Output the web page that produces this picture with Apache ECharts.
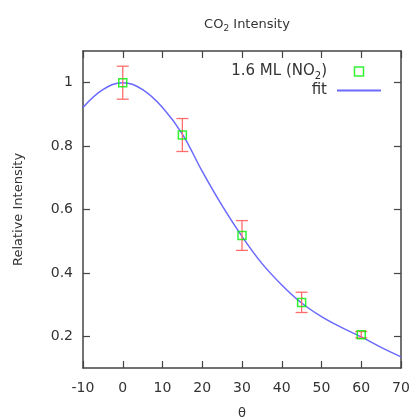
<!DOCTYPE html>
<html><head><meta charset="utf-8">
<script src="https://cdn.jsdelivr.net/npm/echarts@6/dist/echarts.min.js"></script>
<style>html,body{margin:0;padding:0;background:#fff}#c{width:413px;height:418px}</style>
</head><body><div id="c"></div>
<script>
// measured data
const thetaVals = [0, 15, 30, 45, 60];
const intensityVals = [1.0, 0.835, 0.518, 0.307, 0.205];
const errVals = [0.052, 0.052, 0.047, 0.032, 0.01];
// fit curve
const fitTheta = [-10, -5, 0, 5, 10, 15, 20, 25, 30, 35, 40, 45, 50, 55, 60, 65, 70];
const fitVals = [0.922, 0.978, 1.0, 0.978, 0.922, 0.838, 0.72, 0.612, 0.515, 0.43, 0.362, 0.305, 0.262, 0.228, 0.198, 0.165, 0.135];
const xTicks = [-10, 0, 10, 20, 30, 40, 50, 60, 70];
const yTicks = [0.2, 0.4, 0.6, 0.8, 1];

const chart = echarts.init(document.getElementById('c'));
const FONT = 'DejaVu Sans';
const axisCol = '#444';
const pts = thetaVals.map((t, i) => [t, intensityVals[i]]);
const errData = thetaVals.map((t, i) => [t, intensityVals[i] - errVals[i], intensityVals[i] + errVals[i]]);
const fitData = fitTheta.map((t, i) => [t, fitVals[i]]);

const baseX = {
  type: 'value', min: -10, max: 70, interval: 10,
  axisLine: {show: true, onZero: false, lineStyle: {color: axisCol, width: 1.5}},
  axisTick: {show: true, inside: true, length: 7, lineStyle: {color: axisCol, width: 1.2}},
  splitLine: {show: false}
};
const baseY = {
  type: 'value', min: 0.1, max: 1.1,
  axisLine: {show: true, onZero: false, lineStyle: {color: axisCol, width: 1.5}},
  axisTick: {show: true, inside: true, length: 7, customValues: yTicks, lineStyle: {color: axisCol, width: 1.2}},
  splitLine: {show: false}
};

chart.setOption({
  animation: false,
  backgroundColor: '#fff',
  title: {
    text: '{a|CO}{s|2}{a| Intensity}',
    left: 242, top: 12, textAlign: 'center',
    textStyle: {fontWeight: 'normal', rich: {
      a: {fontFamily: FONT, fontSize: 13, fontWeight: 'normal', color: '#333'},
      s: {fontFamily: FONT, fontSize: 9, fontWeight: 'normal', color: '#333', padding: [7, 0, 0, 0]}
    }}
  },
  legend: {
    orient: 'vertical', right: 26, top: 59, align: 'right',
    itemGap: 2, itemWidth: 44, itemHeight: 9,
    textStyle: {fontFamily: FONT, fontSize: 15, color: '#333', padding: [0, 5, 0, 0], rich: {
      a: {fontFamily: FONT, fontSize: 15, color: '#333'},
      s: {fontFamily: FONT, fontSize: 10, color: '#333', padding: [9, 0, 0, 0]}
    }},
    formatter: function (n) { return n === 'meas' ? '{a|1.6 ML (NO}{s|2}{a|)}' : '{a|fit}'; },
    data: [
      {name: 'meas', icon: 'path://M0,0L10,0L10,10L0,10Z', itemStyle: {color: 'transparent', borderColor: '#00ee00', borderWidth: 1.5}},
      {name: 'fit', itemStyle: {opacity: 0}}
    ]
  },
  grid: {left: 83, right: 12, top: 51, bottom: 50, containLabel: false, outerBoundsMode: 'none'},
  xAxis: [
    Object.assign({}, baseX, {
      position: 'bottom', name: 'θ', nameLocation: 'middle', nameGap: 39,
      nameTextStyle: {fontFamily: FONT, fontSize: 13, color: '#333'},
      axisLabel: {fontFamily: FONT, fontSize: 14, color: '#333', margin: 13, customValues: xTicks}
    }),
    Object.assign({}, baseX, {position: 'top', axisLabel: {show: false}})
  ],
  yAxis: [
    Object.assign({}, baseY, {
      position: 'left', name: 'Relative Intensity', nameLocation: 'middle', nameGap: 58, nameRotate: 90,
      nameTextStyle: {fontFamily: FONT, fontSize: 13, color: '#333'},
      axisLabel: {fontFamily: FONT, fontSize: 14, color: '#333', margin: 10, customValues: yTicks,
        formatter: v => (Math.round(v * 10) / 10).toString()}
    }),
    Object.assign({}, baseY, {position: 'right', axisLabel: {show: false}})
  ],
  series: [
    {
      name: 'fit', type: 'line', data: fitData, smooth: 0.4, showSymbol: false, symbol: 'none',
      lineStyle: {color: '#6a6aff', width: 1.5}, itemStyle: {color: '#6a6aff'}, z: 2
    },
    {
      name: 'err', type: 'custom', data: errData, z: 3,
      renderItem: function (params, api) {
        const x = api.value(0);
        const lo = api.coord([x, api.value(1)]);
        const hi = api.coord([x, api.value(2)]);
        const w = 6;
        const st = {stroke: '#ff6e6e', lineWidth: 1.3};
        return {type: 'group', children: [
          {type: 'line', shape: {x1: lo[0], y1: lo[1], x2: hi[0], y2: hi[1]}, style: st},
          {type: 'line', shape: {x1: lo[0] - w, y1: lo[1], x2: lo[0] + w, y2: lo[1]}, style: st},
          {type: 'line', shape: {x1: hi[0] - w, y1: hi[1], x2: hi[0] + w, y2: hi[1]}, style: st}
        ]};
      }
    },
    {
      name: 'meas', type: 'scatter', data: pts, symbol: 'rect', symbolSize: 8, z: 4,
      symbolKeepAspect: true,
      itemStyle: {color: 'transparent', borderColor: '#00ee00', borderWidth: 1.5}
    }
  ]
});
</script>
</body></html>
